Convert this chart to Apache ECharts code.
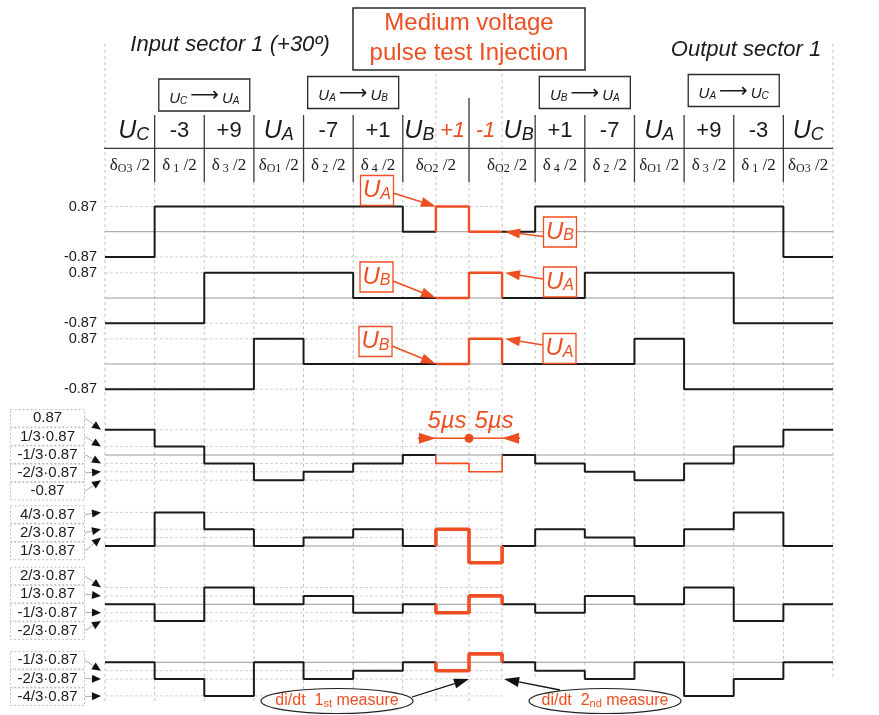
<!DOCTYPE html>
<html>
<head>
<meta charset="utf-8">
<script src="https://cdn.jsdelivr.net/npm/echarts@6.0.0/dist/echarts.min.js"></script>
<style>
html,body{margin:0;padding:0;background:#ffffff;}
#chart{width:879px;height:715px;}
</style>
</head>
<body>
<div id="chart"></div>
<script>
// ================= DATA =================
// column boundaries, measured in thirds of a switching column
const bounds = [0, 3, 6, 9, 12, 15, 18, 20, 22, 24, 26, 29, 32, 35, 38, 41, 44];
// header row 1: applied vector per column
const vectorLabels = ['U_C', '-3', '+9', 'U_A', '-7', '+1', 'U_B', '+1', '-1', 'U_B', '+1', '-7', 'U_A', '+9', '-3', 'U_C'];
// header row 2: duty-cycle labels (subscript) and their centre (in thirds)
const dutySubs = ['O3', '1', '3', 'O1', '2', '4', 'O2', 'O2', '4', '2', 'O1', '3', '1', 'O3'];
const dutyPos  = [1.5, 4.5, 7.5, 10.5, 13.5, 16.5, 20, 24.3, 27.5, 30.5, 33.5, 36.5, 39.5, 42.5];
// columns of the medium-voltage test pulse (drawn in red)
const pulseCols = [7, 8];
// commutation boxes: [from, to] and the boundary they sit on
const commFrom = ['C', 'A', 'B', 'A'];
const commTo   = ['A', 'B', 'A', 'C'];
const commAt   = [6, 15, 29, 38];

// waveform levels per column, in units of 0.87/3
const UaN = [-3, 3, 3, 3, 3, 3, 0, 3, 0, 0, 3, 3, 3, 3, 3, -3];
const UbN = [-3, -3, 3, 3, 3, 0, 0, 0, 3, 0, 0, 3, 3, 3, -3, -3];
const UcN = [-3, -3, -3, 3, 0, 0, 0, 0, 3, 0, 0, 0, 3, -3, -3, -3];
const UNn = [3, 1, -1, -3, -2, -1, 0, -1, -2, 0, -1, -2, -3, -1, 1, 3];
const Uan = [0, 4, 2, 0, 1, 2, 0, 2, -2, 0, 2, 1, 0, 2, 4, 0];
const Ubn = [0, -2, 2, 0, 1, -1, 0, -1, 1, 0, -1, 1, 0, 2, -2, 0];
const Ucn = [0, -2, -4, 0, -2, -1, 0, -1, 1, 0, -1, -2, 0, -4, -2, 0];
const waveNames = ['aN', 'bN', 'cN', 'Nn', 'an', 'bn', 'cn'];

// reference levels (units of 0.87/3) and their tick texts
const levelsPhase = [3, -3];
const levelsNn = [3, 1, -1, -2, -3];
const textNn   = ['0.87', '1/3·0.87', '-1/3·0.87', '-2/3·0.87', '-0.87'];
const levelsAn = [4, 2, 1];
const textAn   = ['4/3·0.87', '2/3·0.87', '1/3·0.87'];
const levelsBn = [2, 1, -1, -2];
const textBn   = ['2/3·0.87', '1/3·0.87', '-1/3·0.87', '-2/3·0.87'];
const levelsCn = [-1, -2, -4];
const textCn   = ['-1/3·0.87', '-2/3·0.87', '-4/3·0.87'];

// ================= STYLE / LAYOUT =================
const SANS = '"Liberation Sans", Arial, Helvetica, sans-serif';
const SERIF = '"Liberation Serif", "Times New Roman", Times, serif';
const RED = '#EF4E23';
const INK = '#1a1a1a';
const UNIT = 8.4;                       // px per 0.87/3
const baselines = [231.7, 298, 364, 455, 546, 604.3, 662.3];
const redWidths = [2.4, 2.4, 2.4, 1.6, 3.6, 3.6, 3.6];
const waves = [UaN, UbN, UcN, UNn, Uan, Ubn, Ucn];
const refLevels = [levelsPhase, levelsPhase, levelsPhase, levelsNn, levelsAn, levelsBn, levelsCn];

function steps(levels, i0, i1) {
  const pts = [];
  for (let i = i0; i <= i1; i++) {
    pts.push([bounds[i], levels[i]], [bounds[i + 1], levels[i]]);
  }
  return pts;
}

const grids = [], xAxes = [], yAxes = [], series = [];
const p0 = pulseCols[0], p1 = pulseCols[pulseCols.length - 1];
waves.forEach((lv, g) => {
  grids.push({ left: 105, right: 46, top: baselines[g] - 6 * UNIT, height: 12 * UNIT });
  xAxes.push({ type: 'value', gridIndex: g, min: 0, max: 44, show: false });
  yAxes.push({
    type: 'value', gridIndex: g, min: -6, max: 6, interval: 3,
    axisLine: { show: false }, axisTick: { show: false }, splitLine: { show: false },
    axisLabel: {
      show: g < 3, margin: 8, fontSize: 14.5, fontFamily: SANS, color: INK,
      formatter: v => (v === 3 ? '0.87' : (v === -3 ? '-0.87' : ''))
    }
  });
  series.push({
    type: 'line', xAxisIndex: g, yAxisIndex: g, silent: true, symbol: 'none',
    data: [[0, 0], [44, 0]], lineStyle: { color: '#9a9a9a', width: 1 }, z: 1,
    markLine: {
      silent: true, symbol: ['none', 'none'], animation: false,
      lineStyle: { color: '#9a9a9a', type: 'solid', width: 1, opacity: 0 },
      label: {
        show: true, position: 'end', distance: 5,
        formatter: '{u|U}{s|' + waveNames[g] + '}',
        rich: {
          u: { fontSize: 24, fontFamily: SANS, color: INK, lineHeight: 24, verticalAlign: 'bottom' },
          s: { fontSize: 16, fontFamily: SERIF, fontStyle: 'italic', color: INK, lineHeight: 8, verticalAlign: 'bottom', padding: [0, 0, 0, 2] }
        }
      },
      data: [[{ coord: [0, 0] }, { coord: [44, 0] }]]
    }
  });
  series.push({
    type: 'line', xAxisIndex: g, yAxisIndex: g, silent: true, symbol: 'none', z: 3,
    data: steps(lv, 0, p0 - 1), lineStyle: { color: INK, width: 2 }
  });
  series.push({
    type: 'line', xAxisIndex: g, yAxisIndex: g, silent: true, symbol: 'none', z: 3,
    data: steps(lv, p1 + 1, lv.length - 1), lineStyle: { color: INK, width: 2 }
  });
  series.push({
    type: 'line', xAxisIndex: g, yAxisIndex: g, silent: true, symbol: 'none', z: 4,
    data: [[bounds[p0], lv[p0 - 1]]].concat(steps(lv, p0, p1), [[bounds[p1 + 1], lv[p1 + 1]]]),
    lineStyle: { color: RED, width: redWidths[g] }
  });
});

const chart = echarts.init(document.getElementById('chart'));
chart.setOption({ animation: false, backgroundColor: '#ffffff', grid: grids, xAxis: xAxes, yAxis: yAxes, series: series });

// ================= ANNOTATIONS =================
const px = (x, y, g) => chart.convertToPixel({ gridIndex: g || 0 }, [x, y]);
const X = b => px(b, 0, 0)[0];
const G = [];
function line(x1, y1, x2, y2, stroke, w, dash, z) {
  const st = { stroke: stroke, lineWidth: w };
  if (dash) st.lineDash = dash;
  G.push({ type: 'line', silent: true, z: z == null ? 5 : z, shape: { x1, y1, x2, y2 }, style: st });
}
function rect(cx, cy, w, h, stroke, lw, dash) {
  const st = { fill: '#ffffff', stroke: stroke, lineWidth: lw };
  if (dash) st.lineDash = dash;
  G.push({ type: 'rect', silent: true, z: 6, shape: { x: cx - w / 2, y: cy - h / 2, width: w, height: h }, style: st });
}
function text(x, y, style, z) {
  G.push({ type: 'text', silent: true, z: z || 8, x: x, y: y, style: Object.assign({ align: 'center', verticalAlign: 'middle' }, style) });
}
function arrow(from, tip, color, lw, size, width, leader) {
  const dx = tip[0] - from[0], dy = tip[1] - from[1], L = Math.hypot(dx, dy) || 1, ux = dx / L, uy = dy / L;
  const bx = tip[0] - ux * size, by = tip[1] - uy * size;
  line(from[0], from[1], bx, by, leader || color, lw, null, 7);
  G.push({ type: 'polygon', silent: true, z: 9,
    shape: { points: [[tip[0], tip[1]], [bx - uy * width / 2, by + ux * width / 2], [bx + uy * width / 2, by - ux * width / 2]] },
    style: { fill: color } });
}
function uSub(main, sub, o) {
  return {
    text: '{u|' + main + '}{s|' + sub + '}',
    rich: {
      u: { fontSize: o.size, fontFamily: SANS, fontStyle: o.italic ? 'italic' : 'normal', fill: o.color, lineHeight: o.size, verticalAlign: 'bottom' },
      s: { fontSize: o.sub, fontFamily: o.subFont || SANS, fontStyle: o.subItalic ? 'italic' : 'normal', fill: o.color,
           lineHeight: Math.max(2, o.sub - 2 * (o.drop || 0)), verticalAlign: 'bottom', padding: [0, 0, 0, o.gap || 0] }
    }
  };
}

// dashed vertical column lines
bounds.forEach(b => {
  const x = X(b);
  const y1 = (b === 0 || b === 44) ? 44 : ((b === 20 || b === 24) ? 74 : 182);
  const y2 = b <= 22 ? 702 : 680;
  line(x, y1, x, y2, '#b4b4b4', 0.8, [3, 3], 0);
});
// dashed reference levels (below the waveforms)
waves.forEach((lv, g) => {
  refLevels[g].forEach(t => {
    const a = px(0, t, g), b = px(24, t, g);
    line(a[0], a[1], b[0], b[1], '#c6c6c6', 0.8, [3, 2], 0);
  });
});
// header separators
bounds.forEach(b => {
  if (b === 0 || b === 20 || b === 24 || b === 44) return;
  line(X(b), b === 22 ? 98 : 115, X(b), 182, '#3a3a3a', 1.3, null, 5);
});
line(X(0) - 1, 148.3, X(44), 148.3, '#3a3a3a', 1.3, null, 5);

// header row 1
vectorLabels.forEach((lab, i) => {
  const isRed = pulseCols.indexOf(i) >= 0;
  const col = isRed ? RED : INK;
  const cx = X((bounds[i] + bounds[i + 1]) / 2) + (i === 0 ? 4 : 0);
  if (lab.indexOf('U_') === 0) {
    text(cx, 131, uSub('U', lab.slice(2), { size: 25, sub: 18, italic: true, subItalic: true, color: col, drop: 1 }));
  } else {
    text(cx, 131, { text: lab, fontSize: 22, fontFamily: SANS, fontStyle: isRed ? 'italic' : 'normal', fill: col });
  }
});
// header row 2
dutySubs.forEach((s, i) => {
  text(X(dutyPos[i]), 166, {
    text: '{d|δ}{s|' + (s.length === 1 ? ' ' + s : s) + '}{d| /2}',
    rich: {
      d: { fontSize: 17, fontFamily: SERIF, fill: INK, lineHeight: 17, verticalAlign: 'bottom' },
      s: { fontSize: 12, fontFamily: SERIF, fill: INK, lineHeight: 8, verticalAlign: 'bottom' }
    }
  });
});
// commutation boxes
const commY = [95, 92.5, 92.5, 90.5];
commFrom.forEach((f, i) => {
  const cx = X(commAt[i]);
  rect(cx, commY[i], 91, 32, '#2a2a2a', 1.3);
  text(cx, commY[i], {
    text: '{u|U}{s|' + f + '}{a|⟶}{u|U}{s|' + commTo[i] + '}',
    rich: {
      u: { fontSize: 15, fontFamily: SANS, fontStyle: 'italic', fill: INK, lineHeight: 15, verticalAlign: 'bottom' },
      s: { fontSize: 10, fontFamily: SANS, fontStyle: 'italic', fill: INK, lineHeight: 4, verticalAlign: 'bottom' },
      a: { fontSize: 20, fontFamily: '"DejaVu Sans", sans-serif', fill: INK, lineHeight: 22, verticalAlign: 'bottom', padding: [0, 3, 0, 3] }
    }
  });
});
// title box
rect(X(22), 39, 232, 62, '#2a2a2a', 1.5);
text(X(22), 23, { text: 'Medium voltage', fontSize: 24, fontFamily: SANS, fill: RED });
text(X(22), 53, { text: 'pulse test Injection', fontSize: 24, fontFamily: SANS, fill: RED });
// sector titles
text(230, 45, { text: 'Input sector 1 (+30º)', fontSize: 22, fontFamily: SANS, fontStyle: 'italic', fill: INK });
text(746, 50, { text: 'Output sector 1', fontSize: 22, fontFamily: SANS, fontStyle: 'italic', fill: INK });

// left boxed level labels with leader arrows
const boxSets = [
  { g: 3, lv: levelsNn, tx: textNn, y0: 418.3 },
  { g: 4, lv: levelsAn, tx: textAn, y0: 514.5 },
  { g: 5, lv: levelsBn, tx: textBn, y0: 576 },
  { g: 6, lv: levelsCn, tx: textCn, y0: 660.3 }
];
boxSets.forEach(set => {
  set.tx.forEach((t, k) => {
    const by = set.y0 + k * 18.2;
    rect(47.5, by, 74, 17.5, '#b0b0b0', 0.8, [2, 2]);
    text(47.5, by, { text: t, fontSize: 15, fontFamily: SANS, fill: INK });
    const ly = px(0, set.lv[k], set.g)[1];
    arrow([85, by], [101, ly], '#111', 0.7, 9, 8, '#8a8a8a');
  });
});

// red pulse annotations on phase voltages
const notes = [
  { g: 0, c: [377, 190.5], t: 'A', from: [393, 193], x: 20, y: 3, dx: 0 },
  { g: 0, c: [560, 232], t: 'B', from: [543, 236.5], x: 24, y: 0, dx: 3 },
  { g: 1, c: [376.5, 277], t: 'B', from: [393, 281], x: 20, y: 0, dx: 0 },
  { g: 1, c: [560, 282], t: 'A', from: [543, 279], x: 24, y: 3, dx: 3 },
  { g: 2, c: [375.5, 341.5], t: 'B', from: [392, 346], x: 20, y: 0, dx: 0 },
  { g: 2, c: [559.5, 348.5], t: 'A', from: [543, 345], x: 24, y: 3, dx: 3 }
];
notes.forEach(n => {
  rect(n.c[0], n.c[1], 33, 30, RED, 1.3);
  text(n.c[0], n.c[1], uSub('U', n.t, { size: 24, sub: 16, italic: true, subItalic: true, color: RED, drop: 1 }));
  const tp = px(n.x, n.y, n.g);
  arrow(n.from, [tp[0] + n.dx, tp[1]], RED, 1.5, 15, 10);
});

// 5 µs dimension
const dimY = 438.3;
line(X(20) - 18, dimY, X(24) + 18, dimY, RED, 1.5, null, 7);
arrow([X(20) - 18, dimY], [X(20), dimY], RED, 0.1, 17, 11);
arrow([X(24) + 18, dimY], [X(24), dimY], RED, 0.1, 17, 11);
G.push({ type: 'circle', silent: true, z: 9, shape: { cx: X(22), cy: dimY, r: 4.5 }, style: { fill: RED } });
text(X(22) - 22, 421, { text: '5µs', fontSize: 24, fontFamily: SANS, fontStyle: 'italic', fill: RED });
text(X(22) + 25, 421, { text: '5µs', fontSize: 24, fontFamily: SANS, fontStyle: 'italic', fill: RED });

// di/dt measurement callouts
const callouts = [
  { c: [337, 701], ord: 'st', n: '1', from: [412, 697], x: 22, dx: 0 },
  { c: [605, 701], ord: 'nd', n: '2', from: [560, 690], x: 24, dx: 2 }
];
callouts.forEach(k => {
  G.push({ type: 'ellipse', silent: true, z: 6, shape: { cx: k.c[0], cy: k.c[1], rx: 76, ry: 12.5 },
    style: { fill: '#ffffff', stroke: '#222', lineWidth: 1.2 } });
  text(k.c[0], k.c[1], {
    text: '{a|di/dt  ' + k.n + '}{b|' + k.ord + '}{a| measure}',
    rich: {
      a: { fontSize: 16, fontFamily: SANS, fill: RED, lineHeight: 16, verticalAlign: 'bottom' },
      b: { fontSize: 11, fontFamily: SANS, fill: RED, lineHeight: 9, verticalAlign: 'bottom' }
    }
  });
  const tp = px(k.x, -2, 6);
  arrow(k.from, [tp[0] + k.dx, tp[1]], '#111', 1.3, 15, 10);
});

chart.setOption({ graphic: { elements: G } });
</script>
</body>
</html>
